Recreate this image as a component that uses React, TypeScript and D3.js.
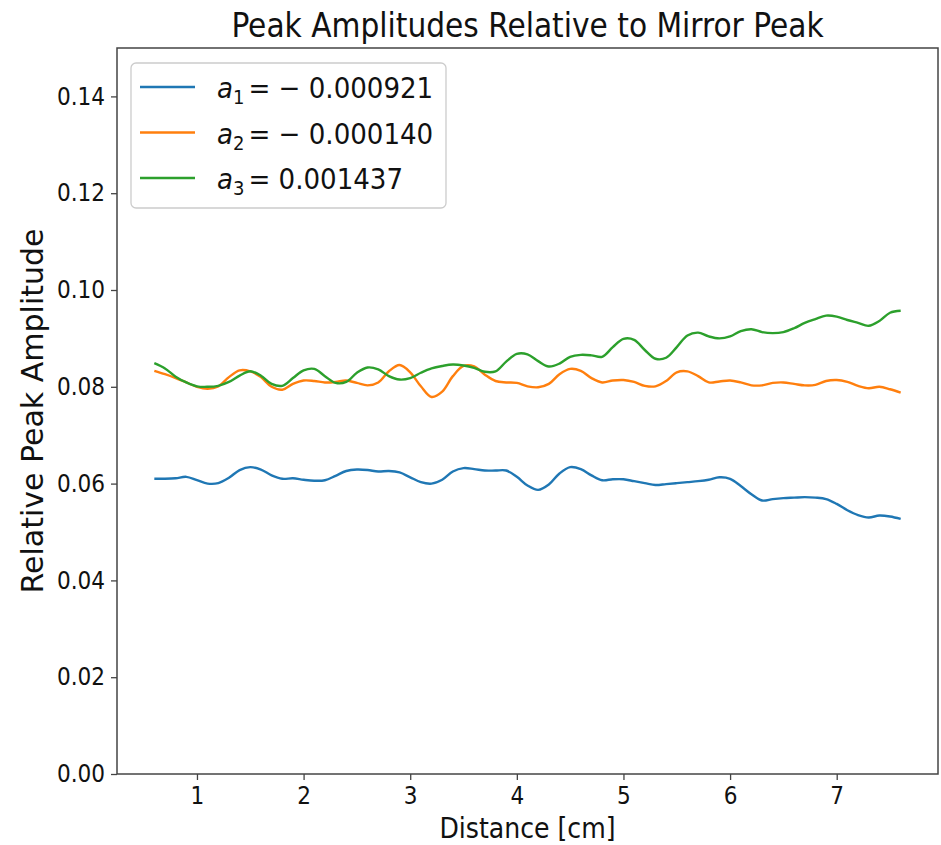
import React, { useRef, useEffect } from "react";
import * as d3 from "d3";

// distance samples (cm)
const distance = d3.range(71).map((i) => +(0.6 + i * 0.1).toFixed(1));

const a1Values = [
  0.0610, 0.0610, 0.0611, 0.0614, 0.0607, 0.0600, 0.0601, 0.0612, 0.0628, 0.0634,
  0.0629, 0.0617, 0.0610, 0.0611, 0.0608, 0.0606, 0.0607, 0.0616, 0.0626, 0.0629,
  0.0628, 0.0625, 0.0626, 0.0623, 0.0613, 0.0603, 0.0600, 0.0608, 0.0625, 0.0632,
  0.0630, 0.0627, 0.0627, 0.0627, 0.0614, 0.0596, 0.0587, 0.0598, 0.0621, 0.0634,
  0.0630, 0.0617, 0.0607, 0.0609, 0.0609, 0.0605, 0.0601, 0.0597, 0.0599, 0.0601,
  0.0603, 0.0605, 0.0608, 0.0613, 0.0610, 0.0595, 0.0578, 0.0565, 0.0568, 0.0570,
  0.0571, 0.0572, 0.0571, 0.0568, 0.0558, 0.0545, 0.0535, 0.0530, 0.0534, 0.0532,
  0.0527,
];

const a2Values = [
  0.0833, 0.0826, 0.0818, 0.0809, 0.0800, 0.0796, 0.0801, 0.0820, 0.0834, 0.0832,
  0.0820, 0.0800, 0.0794, 0.0806, 0.0813, 0.0812, 0.0809, 0.0810, 0.0813, 0.0808,
  0.0803, 0.0809, 0.0832, 0.0845, 0.0830, 0.0801, 0.0779, 0.0790, 0.0822, 0.0843,
  0.0842, 0.0825, 0.0812, 0.0809, 0.0808, 0.0801, 0.0799, 0.0806, 0.0826, 0.0837,
  0.0833, 0.0818, 0.0809, 0.0813, 0.0814, 0.0810, 0.0802, 0.0801, 0.0812, 0.0830,
  0.0832, 0.0822, 0.0809, 0.0811, 0.0813, 0.0809, 0.0803, 0.0803, 0.0808, 0.0809,
  0.0806, 0.0803, 0.0804, 0.0812, 0.0814, 0.0810, 0.0802, 0.0797, 0.0800, 0.0795,
  0.0788,
];

const a3Values = [
  0.0849, 0.0838, 0.0821, 0.0809, 0.0801, 0.0800, 0.0802, 0.0810, 0.0823, 0.0832,
  0.0823, 0.0806, 0.0802, 0.0818, 0.0834, 0.0837, 0.0822, 0.0808, 0.0810, 0.0829,
  0.0840, 0.0836, 0.0822, 0.0815, 0.0818, 0.0829, 0.0838, 0.0843, 0.0846, 0.0844,
  0.0839, 0.0831, 0.0832, 0.0852, 0.0868, 0.0867, 0.0853, 0.0842, 0.0848, 0.0862,
  0.0866, 0.0865, 0.0862, 0.0882, 0.0899, 0.0897, 0.0876, 0.0858, 0.0860, 0.0882,
  0.0906, 0.0912, 0.0904, 0.0900, 0.0904, 0.0915, 0.0919, 0.0913, 0.0911, 0.0913,
  0.0921, 0.0932, 0.0940, 0.0947, 0.0945, 0.0938, 0.0932, 0.0926, 0.0936, 0.0953,
  0.0957,
];

const seriesNames = ["1", "2", "3"];
const seriesSigns = ["= \u2212 0.000921", "= \u2212 0.000140", "= 0.001437"];
const seriesColors = ["#1f77b4", "#ff7f0e", "#2ca02c"];
const xTicks = [1, 2, 3, 4, 5, 6, 7];
const yTicks = [0, 0.02, 0.04, 0.06, 0.08, 0.1, 0.12, 0.14];

export default function App() {
  const chartRef = useRef<SVGSVGElement>(null);

  useEffect(() => {
    const width = 941,
      height = 845;
    const margin = { top: 48, right: 3, bottom: 71, left: 117 };
    const font = "'DejaVu Sans', sans-serif";
    const narrow = "'DejaVu Sans Condensed', 'DejaVu Sans', sans-serif";

    const svg = d3.select(chartRef.current).attr("width", width).attr("height", height);
    svg.selectAll("*").remove();

    const x = d3.scaleLinear().domain([0.25, 7.95]).range([margin.left, width - margin.right]);
    const y = d3.scaleLinear().domain([0, 0.15]).range([height - margin.bottom, margin.top]);

    const series = [a1Values, a2Values, a3Values];

    const line = d3
      .line<number>()
      .x((_, i) => x(distance[i]))
      .y((d) => y(d))
      .curve(d3.curveCatmullRom);

    series.forEach((vals, i) => {
      svg
        .append("path")
        .datum(vals)
        .attr("d", line)
        .attr("fill", "none")
        .attr("stroke", seriesColors[i])
        .attr("stroke-width", 2.4)
        .attr("stroke-linejoin", "round");
    });

    // frame
    svg
      .append("rect")
      .attr("x", margin.left)
      .attr("y", margin.top)
      .attr("width", width - margin.left - margin.right)
      .attr("height", height - margin.top - margin.bottom)
      .attr("fill", "none")
      .attr("stroke", "#444")
      .attr("stroke-width", 1.5);

    const xAxis = svg
      .append("g")
      .attr("transform", `translate(0,${height - margin.bottom})`)
      .call(d3.axisBottom(x).tickValues(xTicks).tickSize(6).tickPadding(7).tickFormat(d3.format("d")));
    const yAxis = svg
      .append("g")
      .attr("transform", `translate(${margin.left},0)`)
      .call(d3.axisLeft(y).tickValues(yTicks).tickSize(6).tickPadding(6).tickFormat(d3.format(".2f")));

    [xAxis, yAxis].forEach((ax) => {
      ax.select(".domain").remove();
      ax.selectAll("line").attr("stroke", "#444").attr("stroke-width", 1.3);
      ax.selectAll("text").attr("fill", "#111").style("font-family", narrow).style("font-size", "24px");
    });

    // title
    svg
      .append("text")
      .attr("x", (margin.left + width - margin.right) / 2)
      .attr("y", 37)
      .attr("text-anchor", "middle")
      .style("font-family", narrow)
      .style("font-size", "33px")
      .attr("fill", "#111")
      .text("Peak Amplitudes Relative to Mirror Peak");

    svg
      .append("text")
      .attr("x", (margin.left + width - margin.right) / 2)
      .attr("y", 838)
      .attr("text-anchor", "middle")
      .style("font-family", narrow)
      .style("font-size", "28px")
      .attr("fill", "#111")
      .text("Distance [cm]");

    svg
      .append("text")
      .attr("transform", `translate(43,${(margin.top + height - margin.bottom) / 2}) rotate(-90)`)
      .attr("text-anchor", "middle")
      .style("font-family", font)
      .style("font-size", "30px")
      .attr("fill", "#111")
      .text("Relative Peak Amplitude");

    // legend
    const legend = svg.append("g").attr("transform", "translate(131,63)");
    legend
      .append("rect")
      .attr("width", 315)
      .attr("height", 145)
      .attr("rx", 5)
      .attr("fill", "white")
      .attr("fill-opacity", 0.8)
      .attr("stroke", "#ccc")
      .attr("stroke-width", 1.3);

    seriesNames.forEach((name, i) => {
      const cy = 24 + i * 45.5;
      legend
        .append("line")
        .attr("x1", 9)
        .attr("x2", 64)
        .attr("y1", cy)
        .attr("y2", cy)
        .attr("stroke", seriesColors[i])
        .attr("stroke-width", 2.4);
      const t = legend
        .append("text")
        .attr("x", 86)
        .attr("y", cy + 11)
        .style("font-family", narrow)
        .style("font-size", "29px")
        .attr("fill", "#111");
      t.append("tspan").style("font-style", "italic").text("a");
      t.append("tspan").attr("dy", 6).style("font-size", "20px").text(name);
      t.append("tspan").attr("dy", -6).attr("dx", 4).text(seriesSigns[i]);
    });
  }, []);

  return (
    <svg ref={chartRef} style={{ position: "absolute", left: 0, top: 0, background: "white" }}></svg>
  );
}
